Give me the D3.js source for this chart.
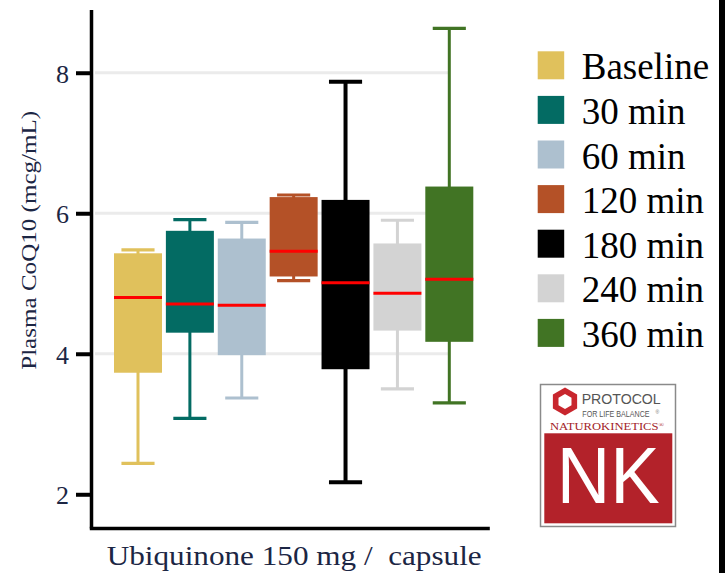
<!DOCTYPE html>
<html>
<head>
<meta charset="utf-8">
<script src="https://cdn.jsdelivr.net/npm/d3@7"></script>
<style>
  body { margin: 0; background: #fff; }
  svg { display: block; }
</style>
</head>
<body>
<div id="chart"></div>
<script>
// box plot values (mcg/mL)
var groups = ["Baseline", "30 min", "60 min", "120 min", "180 min", "240 min", "360 min"]
var whiskerLow = [2.44, 3.08, 3.37, 5.04, 2.17, 3.50, 3.30]
var q1 = [3.73, 4.30, 3.98, 5.10, 3.78, 4.33, 4.17]
var medians = [4.80, 4.71, 4.69, 5.46, 5.01, 4.86, 5.06]
var q3 = [5.43, 5.75, 5.64, 6.23, 6.19, 5.57, 6.38]
var whiskerHigh = [5.48, 5.91, 5.87, 6.26, 7.87, 5.90, 8.63]
var yTicks = [2, 4, 6, 8]
var gridValues = [4, 6, 8]

var palette = ["#e0c15c", "#036b63", "#adc0cf", "#b45127", "#000000", "#d3d3d3", "#417424"]
var navy = "#1c2644"

var width = 725, height = 573

var svg = d3.select("#chart")
    .append("svg")
    .attr("width", width)
    .attr("height", height)

// scales
var x = d3.scaleBand()
    .domain(groups)
    .range([114, 473.3])
    .paddingInner(0.075)
    .paddingOuter(0)

var y = d3.scaleLinear()
    .domain([1.52, 8.9])
    .range([528, 9.5])

var bw = x.bandwidth()
var capW = bw * 0.69

// light grid lines
svg.append("g")
    .selectAll("line")
    .data(gridValues)
    .enter()
    .append("line")
    .attr("x1", 95)
    .attr("x2", x(groups[groups.length - 1]) + bw / 2)
    .attr("y1", function (d) { return y(d) })
    .attr("y2", function (d) { return y(d) })
    .attr("stroke", "#ebebeb")
    .attr("stroke-width", 3)

// build rows for the boxes
var rows = groups.map(function (g, i) {
    return { group: g, lo: whiskerLow[i], q1: q1[i], med: medians[i], q3: q3[i], hi: whiskerHigh[i], color: palette[i] }
})

var box = svg.append("g")
    .selectAll("g")
    .data(rows)
    .enter()
    .append("g")
    .attr("transform", function (d) { return "translate(" + x(d.group) + ",0)" })

// whisker stems
box.append("line")
    .attr("x1", bw / 2).attr("x2", bw / 2)
    .attr("y1", function (d) { return y(d.hi) })
    .attr("y2", function (d) { return y(d.lo) })
    .attr("stroke", function (d) { return d.color })
    .attr("stroke-width", function (d) { return d.group === "180 min" ? 4 : 3 })

// caps
box.selectAll(".cap")
    .data(function (d) { return [{ v: d.lo, c: d.color, g: d.group }, { v: d.hi, c: d.color, g: d.group }] })
    .enter()
    .append("line")
    .attr("class", "cap")
    .attr("x1", bw / 2 - capW / 2).attr("x2", bw / 2 + capW / 2)
    .attr("y1", function (d) { return y(d.v) })
    .attr("y2", function (d) { return y(d.v) })
    .attr("stroke", function (d) { return d.c })
    .attr("stroke-width", function (d) { return d.g === "180 min" ? 4 : 3.2 })

// boxes
box.append("rect")
    .attr("x", 0)
    .attr("width", bw)
    .attr("y", function (d) { return y(d.q3) })
    .attr("height", function (d) { return y(d.q1) - y(d.q3) })
    .attr("fill", function (d) { return d.color })

// medians
box.append("line")
    .attr("x1", 0).attr("x2", bw)
    .attr("y1", function (d) { return y(d.med) })
    .attr("y2", function (d) { return y(d.med) })
    .attr("stroke", "#ff0000")
    .attr("stroke-width", 3)

// Y axis
var yAxis = svg.append("g")
    .attr("transform", "translate(91,0)")
    .call(d3.axisLeft(y).tickValues(yTicks).tickSize(15).tickSizeOuter(0).tickPadding(7).tickFormat(d3.format("d")))
yAxis.select(".domain").attr("stroke", "#000").attr("stroke-width", 3.5)
yAxis.selectAll(".tick line").attr("stroke", "#000").attr("stroke-width", 4)
yAxis.selectAll(".tick text")
    .attr("fill", navy)
    .style("font-family", "'Liberation Serif', serif")
    .style("font-size", "26px")
    .attr("dy", "0.36em")

// X axis line (no ticks)
var xLine = d3.scaleLinear().range([89.3, 489.3])
svg.append("g")
    .attr("transform", "translate(0," + y.range()[0] + ")")
    .call(d3.axisBottom(xLine).tickValues([]).tickSizeOuter(0))
    .select(".domain")
    .attr("stroke", "#000")
    .attr("stroke-width", 3.5)

// axis titles
svg.append("text")
    .attr("transform", "translate(36,240.3) rotate(-90)")
    .attr("text-anchor", "middle")
    .attr("textLength", 259)
    .attr("lengthAdjust", "spacingAndGlyphs")
    .attr("fill", navy)
    .style("font-family", "'Liberation Serif', serif")
    .style("font-size", "22px")
    .text("Plasma CoQ10 (mcg/mL)")

svg.append("text")
    .attr("x", 106.7)
    .attr("y", 565)
    .attr("textLength", 375)
    .attr("lengthAdjust", "spacingAndGlyphs")
    .attr("fill", navy)
    .style("font-family", "'Liberation Serif', serif")
    .style("font-size", "28px")
    .style("white-space", "pre")
    .text("Ubiquinone 150 mg /  capsule")

// legend
var legend = svg.append("g")
    .selectAll("g")
    .data(groups)
    .enter()
    .append("g")
    .attr("transform", function (d, i) { return "translate(537.7," + (79.3 + i * 44.6) + ")" })

legend.append("rect")
    .attr("x", 0)
    .attr("y", -28)
    .attr("width", 26.5)
    .attr("height", 28)
    .attr("fill", function (d, i) { return palette[i] })

legend.append("text")
    .attr("x", 44)
    .attr("y", 0)
    .attr("fill", "#000")
    .style("font-family", "'Liberation Serif', serif")
    .style("font-size", "37px")
    .text(function (d) { return d })

// logo in the lower right
var logo = svg.append("g")
logo.append("rect")
    .attr("x", 540.5).attr("y", 384.5)
    .attr("width", 135).attr("height", 142)
    .attr("fill", "#fff")
    .attr("stroke", "#8a8a8a")
    .attr("stroke-width", 1.5)
logo.append("rect")
    .attr("x", 544.3).attr("y", 433.3)
    .attr("width", 128).attr("height", 90)
    .attr("fill", "#b3222a")

function hexPoints(cx, cy, r) {
    return d3.range(6).map(function (k) {
        var a = Math.PI / 180 * (60 * k - 90)
        return [cx + r * Math.cos(a), cy + r * Math.sin(a)].join(",")
    }).join(" ")
}
logo.append("polygon")
    .attr("points", hexPoints(565, 401.6, 14))
    .attr("fill", "#c8262d")
logo.append("polygon")
    .attr("points", hexPoints(565, 401.6, 7.5))
    .attr("fill", "#fff")

logo.append("text")
    .attr("x", 581.7).attr("y", 403.5)
    .attr("textLength", 79)
    .attr("lengthAdjust", "spacingAndGlyphs")
    .attr("fill", "#555")
    .style("font-family", "'Liberation Sans', sans-serif")
    .style("font-size", "14px")
    .text("PROTOCOL")

// narrow tagline: squeeze it with a transform so its box stays short
logo.append("text")
    .attr("transform", "translate(582.3,417) scale(0.84,1)")
    .attr("fill", "#555")
    .style("font-family", "'Liberation Sans', sans-serif")
    .style("font-size", "8.5px")
    .text("FOR LIFE BALANCE")
logo.append("text")
    .attr("x", 655.5).attr("y", 414)
    .attr("fill", "#777")
    .style("font-family", "'Liberation Sans', sans-serif")
    .style("font-size", "5px")
    .text("®")

var natu = logo.append("text")
    .attr("x", 550).attr("y", 429.5)
    .attr("textLength", 114)
    .attr("lengthAdjust", "spacingAndGlyphs")
    .attr("fill", "#a3242a")
    .style("font-family", "'Liberation Serif', serif")
    .style("font-size", "10.5px")
natu.append("tspan").text("NATUROKINETICS")
natu.append("tspan").attr("dy", -3).style("font-size", "6px").text("®")

logo.append("text")
    .attr("x", 556.7).attr("y", 503.3)
    .attr("textLength", 103)
    .attr("lengthAdjust", "spacingAndGlyphs")
    .attr("fill", "#fff")
    .style("font-family", "'Liberation Sans', sans-serif")
    .style("font-size", "79px")
    .text("NK")

// black edge on the right side
svg.append("rect")
    .attr("x", 719).attr("y", 0)
    .attr("width", 6).attr("height", height)
    .attr("fill", "#000")
</script>
</body>
</html>
